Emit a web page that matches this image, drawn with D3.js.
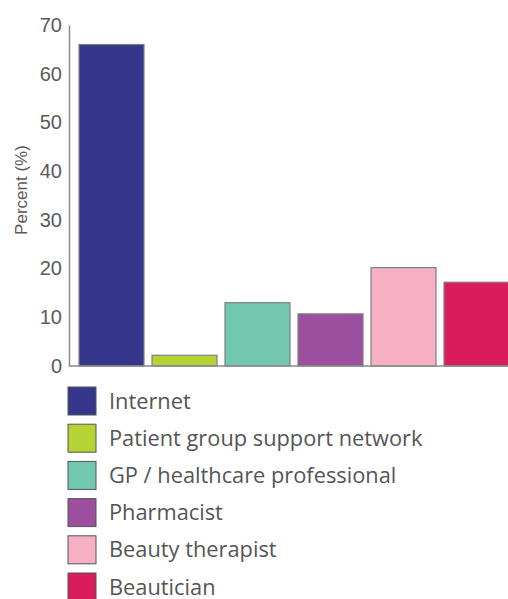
<!DOCTYPE html>
<html>
<head>
<meta charset="utf-8">
<script src="https://cdn.jsdelivr.net/npm/d3@7"></script>
<style>
  html, body { margin: 0; padding: 0; background: #fff; }
  svg { display: block; }
</style>
</head>
<body>
<svg id="chart" width="508" height="599"></svg>
<script>
// Sources of information (percent of respondents)
const categories = ["Internet", "Patient group support network", "GP / healthcare professional", "Pharmacist", "Beauty therapist", "Beautician"];
const values = [66, 2.2, 13, 10.7, 20.2, 17.2];
const colors = ["#35368c", "#b5d334", "#72c8ae", "#9b4f9e", "#f6afc3", "#da1c5c"];
const yTicks = [0, 10, 20, 30, 40, 50, 60, 70];

const svg = d3.select("#chart");

const axisX = 69, baseY = 366, topY = 25;

const y = d3.scaleLinear().domain([0, 70]).range([baseY, topY]);
const x = d3.scaleBand()
  .domain(categories)
  .range([75, 513])
  .paddingInner(0.11)
  .paddingOuter(0.055);

// Bars
svg.append("g")
  .selectAll("rect")
  .data(categories)
  .join("rect")
  .attr("x", d => x(d))
  .attr("y", (d, i) => y(values[i]))
  .attr("width", x.bandwidth())
  .attr("height", (d, i) => baseY - y(values[i]))
  .attr("fill", (d, i) => colors[i])
  .attr("stroke", "#7f7f7f")
  .attr("stroke-width", 1.2);

// Y axis: line and labels only
const yAxis = d3.axisLeft(y).tickValues(yTicks).tickSize(0).tickPadding(7);
const gy = svg.append("g").attr("transform", `translate(${axisX},0)`).call(yAxis);
gy.select(".domain").attr("stroke", "#8a8a8a").attr("stroke-width", 1.5);
gy.selectAll("text")
  .attr("font-family", "'Liberation Sans', Arial, sans-serif")
  .attr("font-size", 20)
  .attr("fill", "#5a5a5a");

// Baseline
svg.append("line")
  .attr("x1", axisX).attr("x2", 508)
  .attr("y1", baseY).attr("y2", baseY)
  .attr("stroke", "#8a8a8a").attr("stroke-width", 1.5);

// Y axis title
svg.append("text")
  .attr("transform", "translate(27,190) rotate(-90)")
  .attr("text-anchor", "middle")
  .attr("font-family", "'Liberation Sans', Arial, sans-serif")
  .attr("font-size", 17)
  .attr("fill", "#5a5a5a")
  .text("Percent (%)");

// Legend
const legend = svg.append("g");
const rows = legend.selectAll("g")
  .data(categories)
  .join("g")
  .attr("transform", (d, i) => `translate(68,${387 + i * 37.2})`);
rows.append("rect")
  .attr("width", 28).attr("height", 28)
  .attr("fill", (d, i) => colors[i])
  .attr("stroke", "#555").attr("stroke-width", 1);
rows.append("text")
  .attr("x", 41).attr("y", 21.5)
  .attr("font-family", "'Open Sans', 'Noto Sans', sans-serif")
  .attr("font-size", 21.8)
  .attr("fill", "#555")
  .text(d => d);
</script>
</body>
</html>
